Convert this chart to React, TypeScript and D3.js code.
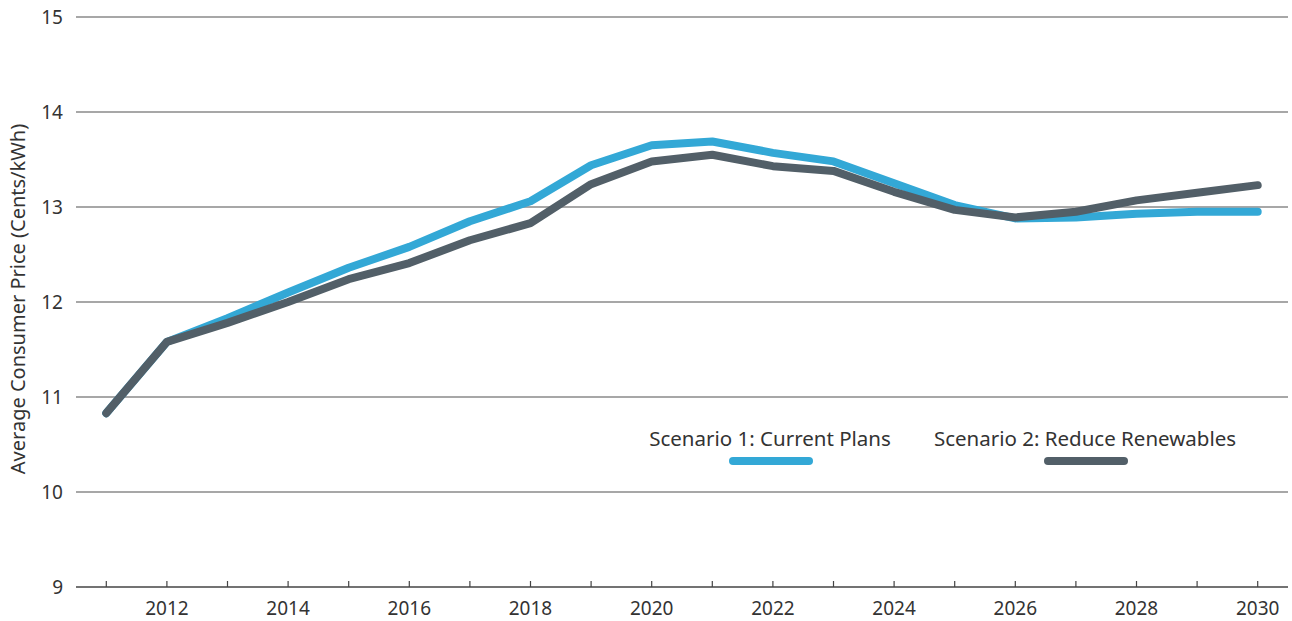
import * as d3 from "d3";

const years = [2011, 2012, 2013, 2014, 2015, 2016, 2017, 2018, 2019, 2020, 2021, 2022, 2023, 2024, 2025, 2026, 2027, 2028, 2029, 2030];
const currentPlans = [10.83, 11.58, 11.83, 12.1, 12.36, 12.58, 12.85, 13.06, 13.44, 13.65, 13.69, 13.57, 13.48, 13.25, 13.02, 12.88, 12.89, 12.93, 12.95, 12.95];
const reduceRenewables = [10.83, 11.58, 11.78, 12.0, 12.24, 12.41, 12.65, 12.83, 13.24, 13.48, 13.55, 13.43, 13.38, 13.16, 12.97, 12.89, 12.95, 13.07, 13.15, 13.23];
const yTicks = [9, 10, 11, 12, 13, 14, 15];
const xLabels = [2012, 2014, 2016, 2018, 2020, 2022, 2024, 2026, 2028, 2030];
const seriesNames = ["Scenario 1: Current Plans", "Scenario 2: Reduce Renewables"];
const colors = ["#33a8d6", "#525f68"];

const width = 1292;
const height = 621;
const margin = { left: 76, right: 4, top: 17, bottom: 34 };
const font = "'Noto Sans', 'Open Sans', sans-serif";

export default function App() {
  const x = d3.scaleLinear()
    .domain([2010.5, 2030.5])
    .range([margin.left, width - margin.right]);
  const y = d3.scaleLinear()
    .domain([9, 15])
    .range([height - margin.bottom, margin.top]);

  const line = d3.line<number>()
    .x((_, i) => x(years[i]))
    .y((d) => y(d));

  const series = [currentPlans, reduceRenewables];

  // legend: text centre, line centre
  const legend = [
    { tx: 770, lx: 771 },
    { tx: 1085, lx: 1086 },
  ];

  return (
    <svg
      width={width}
      height={height}
      viewBox={`0 0 ${width} ${height}`}
      style={{ position: "absolute", left: 0, top: 0, background: "#fff" }}
    >
      {/* grid + y labels */}
      <g>
        {yTicks.map((t) => (
          <g key={t}>
            {t > 9 && (
              <line
                x1={margin.left}
                x2={width - margin.right}
                y1={y(t)}
                y2={y(t)}
                stroke="#8a8a8a"
                strokeWidth={1.5}
              />
            )}
            <text
              x={63}
              y={y(t)}
              dy="0.36em"
              textAnchor="end"
              fontFamily={font}
              fontSize={19}
              fill="#333"
            >
              {t}
            </text>
          </g>
        ))}
      </g>

      {/* x axis */}
      <g>
        <line
          x1={margin.left}
          x2={width - margin.right}
          y1={y(9)}
          y2={y(9)}
          stroke="#444"
          strokeWidth={1.5}
        />
        {years.map((yr) => (
          <line
            key={yr}
            x1={x(yr)}
            x2={x(yr)}
            y1={y(9)}
            y2={y(9) - 6}
            stroke="#444"
            strokeWidth={1.2}
          />
        ))}
        {xLabels.map((yr) => (
          <text
            key={yr}
            x={x(yr)}
            y={615}
            textAnchor="middle"
            fontFamily={font}
            fontSize={19}
            fill="#333"
          >
            {yr}
          </text>
        ))}
      </g>

      <text
        transform={`translate(25, ${y(12) - 3}) rotate(-90)`}
        textAnchor="middle"
        fontFamily={font}
        fontSize={20}
        fill="#333"
      >
        Average Consumer Price (Cents/kWh)
      </text>

      {/* lines */}
      {series.map((s, i) => (
        <path
          key={i}
          d={line(s) ?? ""}
          fill="none"
          stroke={colors[i]}
          strokeWidth={8}
          strokeLinecap="round"
          strokeLinejoin="round"
        />
      ))}

      {/* legend */}
      {seriesNames.map((name, i) => (
        <g key={name}>
          <text
            x={legend[i].tx}
            y={446}
            textAnchor="middle"
            fontFamily={font}
            fontSize={20.5}
            fill="#333"
          >
            {name}
          </text>
          <line
            x1={legend[i].lx - 38}
            x2={legend[i].lx + 38}
            y1={461}
            y2={461}
            stroke={colors[i]}
            strokeWidth={8}
            strokeLinecap="round"
          />
        </g>
      ))}
    </svg>
  );
}
